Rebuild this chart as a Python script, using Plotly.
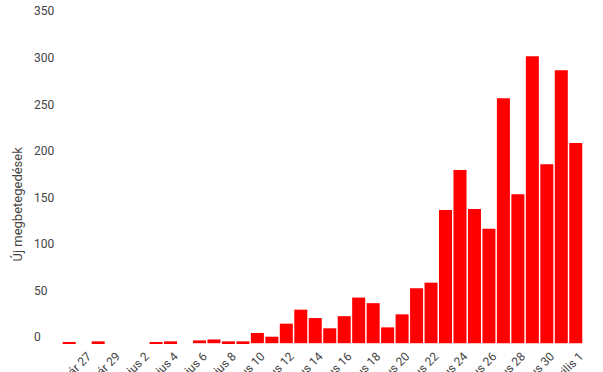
import plotly.graph_objects as go
import pandas as pd

# Daily new cases, 2020-02-26 .. 2020-04-01
start_date = "2020-02-26"
new_cases = [1, 0, 2, 0, 0, 0, 1, 2, 0, 3, 4, 2, 2, 11, 7, 21, 36, 27, 16, 29,
             49, 43, 17, 31, 59, 65, 143, 186, 144, 123, 263, 160, 308, 192, 293, 215]
dates = pd.date_range(start_date, periods=len(new_cases), freq="D")

# x tick labels (every second day, starting 2020-02-27)
tick_dates = ["2020-02-27", "2020-02-29", "2020-03-02", "2020-03-04", "2020-03-06",
              "2020-03-08", "2020-03-10", "2020-03-12", "2020-03-14", "2020-03-16",
              "2020-03-18", "2020-03-20", "2020-03-22", "2020-03-24", "2020-03-26",
              "2020-03-28", "2020-03-30", "2020-04-01"]
tick_labels = ["február 27", "február 29", "március 2", "március 4", "március 6",
               "március 8", "március 10", "március 12", "március 14", "március 16",
               "március 18", "március 20", "március 22", "március 24", "március 26",
               "március 28", "március 30", "április 1"]
y_ticks = [0, 50, 100, 150, 200, 250, 300, 350]
y_range = [-3, 367.4]
y_title = "Új megbetegedések"

W, H = 603, 372
ML, MR, MT, MB = 30, 20, 1, 26
pw = W - ML - MR
ph = H - MT - MB

fig = go.Figure(go.Bar(x=dates, y=new_cases, marker=dict(color="#ff0000", line=dict(width=0))))

fig.update_layout(
    width=W, height=H,
    margin=dict(l=ML, r=MR, t=MT, b=MB, pad=0),
    paper_bgcolor="white", plot_bgcolor="white",
    bargap=0.1,
    showlegend=False,
    font=dict(family="Roboto", size=12, color="#444"),
    xaxis=dict(
        domain=[(62 - ML) / pw, 1],
        type="date",
        tickmode="array", tickvals=tick_dates, ticktext=tick_labels,
        tickangle=-45, showgrid=False, zeroline=False, showline=False,
        ticks="", ticklabelshift=4,
        automargin=False,
        tickfont=dict(size=12, color="#444"),
    ),
    yaxis=dict(
        range=y_range, tickmode="array", tickvals=y_ticks,
        anchor="free", position=0,
        ticklabelposition="inside",
        ticklabelshift=-6,
        showgrid=False, zeroline=False, showline=False, ticks="",
        automargin=False,
        tickfont=dict(size=12, color="#444"),
    ),
    annotations=[dict(
        text=y_title, xref="paper", yref="paper",
        x=(16.5 - ML) / pw, y=(H - MB - 204) / ph,
        xanchor="center", yanchor="middle", textangle=-90, showarrow=False,
        font=dict(size=13, color="#444"),
    )],
)

fig.write_html("out.html")
